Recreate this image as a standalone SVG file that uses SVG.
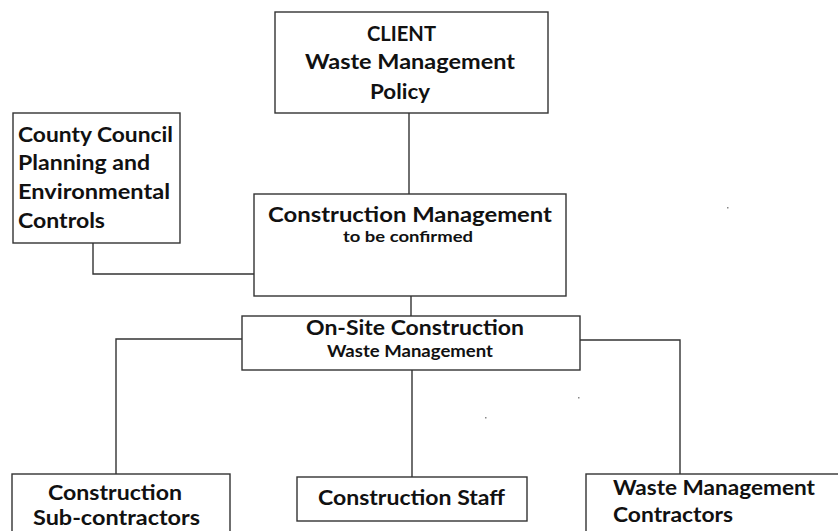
<svg xmlns="http://www.w3.org/2000/svg" width="838" height="531" viewBox="0 0 838 531">
<style>
.box{fill:#fff;stroke:#333;stroke-width:1.4}
.ln{fill:none;stroke:#333;stroke-width:1.4}
text{font-family:Lato,"Open Sans","Liberation Sans",sans-serif;font-weight:bold;fill:#111}
.big{font-size:20.5px}
.sm{font-size:15px}
.sm2{font-size:17px}
</style>
<rect width="838" height="531" fill="#fff"/>
<g id="connectors">
<line class="ln" x1="409" y1="113" x2="409" y2="194"/>
<polyline class="ln" points="93,243 93,274 254,274"/>
<line class="ln" x1="411" y1="296" x2="411" y2="316"/>
<polyline class="ln" points="242,339 116,339 116,474"/>
<polyline class="ln" points="580,340 680,340 680,474"/>
<line class="ln" x1="412" y1="370" x2="412" y2="477"/>
</g>
<g id="client">
<rect class="box" x="275" y="12" width="273" height="101"/>
<text class="big" x="367" y="41" textLength="69" lengthAdjust="spacingAndGlyphs">CLIENT</text>
<text class="big" x="305" y="69" textLength="210" lengthAdjust="spacingAndGlyphs">Waste Management</text>
<text class="big" x="370" y="99" textLength="60" lengthAdjust="spacingAndGlyphs">Policy</text>
</g>
<g id="county">
<rect class="box" x="13" y="113" width="167" height="130"/>
<text class="big" x="18" y="142" textLength="155" lengthAdjust="spacingAndGlyphs">County Council</text>
<text class="big" x="18" y="170" textLength="132" lengthAdjust="spacingAndGlyphs">Planning and</text>
<text class="big" x="18" y="199" textLength="152" lengthAdjust="spacingAndGlyphs">Environmental</text>
<text class="big" x="18" y="228" textLength="87" lengthAdjust="spacingAndGlyphs">Controls</text>
</g>
<g id="construction-management">
<rect class="box" x="254" y="194" width="312" height="102"/>
<text class="big" x="268" y="222" textLength="284" lengthAdjust="spacingAndGlyphs">Construction  Management</text>
<text class="sm" x="343" y="242" textLength="130" lengthAdjust="spacingAndGlyphs">to be confirmed</text>
</g>
<g id="onsite">
<rect class="box" x="242" y="316" width="338" height="54"/>
<text class="big" x="306" y="335" textLength="218" lengthAdjust="spacingAndGlyphs">On-Site Construction</text>
<text class="sm2" x="327" y="357" textLength="166" lengthAdjust="spacingAndGlyphs">Waste Management</text>
</g>
<g id="subcontractors">
<rect class="box" x="12" y="474" width="218" height="62"/>
<text class="big" x="48" y="500" textLength="134" lengthAdjust="spacingAndGlyphs">Construction</text>
<text class="big" x="33" y="525" textLength="167" lengthAdjust="spacingAndGlyphs">Sub-contractors</text>
</g>
<g id="staff">
<rect class="box" x="297" y="477" width="230" height="44"/>
<text class="big" x="318" y="505" textLength="187" lengthAdjust="spacingAndGlyphs">Construction Staff</text>
</g>
<g id="wm-contractors">
<rect class="box" x="586" y="474" width="256" height="62"/>
<text class="big" x="613" y="495" textLength="202" lengthAdjust="spacingAndGlyphs">Waste Management</text>
<text class="big" x="613" y="522" textLength="120" lengthAdjust="spacingAndGlyphs">Contractors</text>
</g>
<g id="specks" fill="#888">
<rect x="727" y="207" width="1.5" height="1.5"/>
<rect x="578" y="397" width="1.5" height="1.5"/>
<rect x="485" y="417" width="1.5" height="1.5"/>
</g>
</svg>
